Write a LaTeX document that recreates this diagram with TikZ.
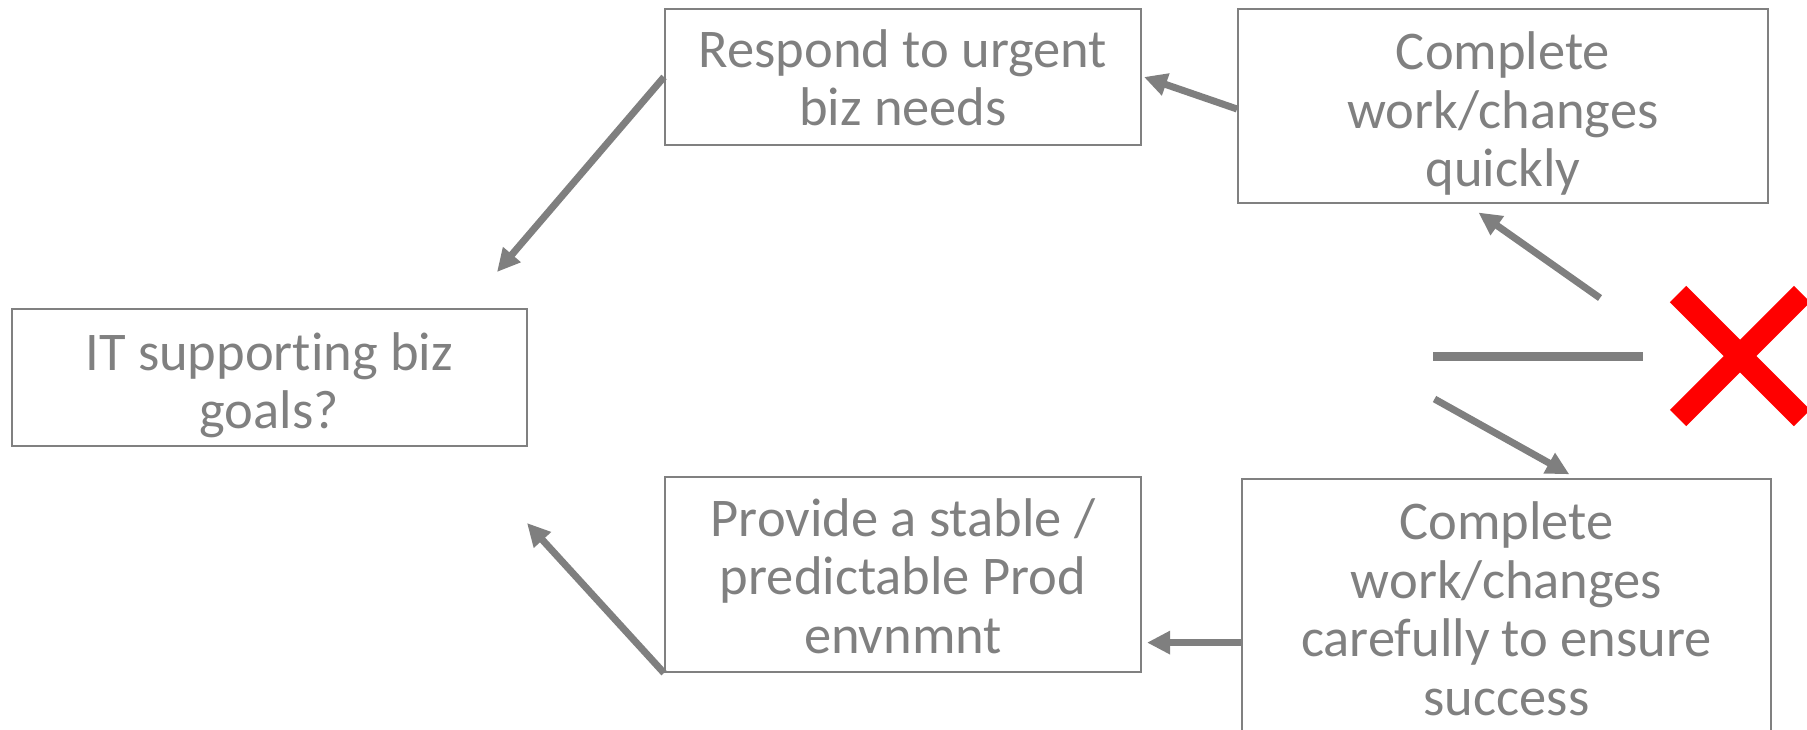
\documentclass[tikz,border=0pt]{standalone}
\usepackage{fontspec}
\setmainfont{Carlito}[Ligatures=NoCommon]
\usetikzlibrary{arrows.meta}
\definecolor{txtgray}{RGB}{128,128,128}
\definecolor{linegray}{RGB}{127,127,127}
\definecolor{xred}{RGB}{255,0,0}
\tikzset{
  frame/.style={draw=txtgray, line width=2pt, rectangle, inner sep=0pt},
  label text/.style={inner sep=0pt, anchor=base, align=center, text=txtgray,
    font=\fontsize{54.5}{58.5}\selectfont},
  flow/.style={draw=linegray, line width=7pt,
    -{Triangle[length=23pt,width=22pt]}},
  bar/.style={draw=linegray, line width=9pt},
  cross/.style={draw=xred, line width=23pt}
}
\begin{document}
\begin{tikzpicture}[x=1pt,y=-1pt]
  \useasboundingbox (0,0) rectangle (1807,729);

  % boxes
  \node[frame, minimum width=515.5pt, minimum height=137pt] (goal) at (269.25,377.5) {};
  \node[frame, minimum width=476pt, minimum height=136pt] (urgent) at (903,77) {};
  \node[frame, minimum width=530pt, minimum height=194pt] (quick) at (1503,106) {};
  \node[frame, minimum width=529pt, minimum height=258pt] (careful) at (1506.5,608) {};
  \node[frame, minimum width=476pt, minimum height=195pt] (stable) at (903,574.5) {};

  % box texts, placed on the baseline of their last line
  \node[label text] (goalT) at (goal.center |- 0,428.5) {IT supporting biz\\goals?};
  \node[label text] (urgentT) at (urgent.center |- 0,125.5) {Respond to urgent\\biz needs};
  \node[label text] (quickT) at (quick.center |- 0,186.5) {Complete\\work/changes\\quickly};
  \node[label text] (carefulT) at (careful.center |- 0,715)
    {Complete\\work/changes\\carefully to ensure\\success};
  \node[label text] (stableT) at (stable.center |- 0,653)
    {Provide a stable /\\predictable Prod\\envnmnt};

  % free ends of the connectors
  \coordinate (goalTop) at (497,272);
  \coordinate (goalBot) at (527,523);
  \coordinate (forkUp) at (1600,298);
  \coordinate (quickBelow) at (1478.5,212.5);
  \coordinate (forkDown) at (1434.5,399);
  \coordinate (carefulAbove) at (1569.3,474.3);
  \coordinate (barL) at (1433,356);
  \coordinate (barR) at (1643,356);
  \coordinate (xc) at (1740,356);

  % connectors
  \draw[flow] (urgent.west) -- (goalTop);
  \draw[flow] ([yshift=-3pt]quick.west) -- ([xshift=2pt]urgent.east);
  \draw[flow] (forkUp) -- (quickBelow);
  \draw[bar] (barL) -- (barR);
  \draw[flow] (forkDown) -- (carefulAbove);
  \draw[flow] (careful.west |- 0,642.6) -- ([xshift=5pt]stable.east |- 0,642.6);
  \draw[flow] (stable.south west) -- (goalBot);

  % red cross
  \draw[cross] ([shift={(-62,-62)}]xc) -- ([shift={(62,62)}]xc);
  \draw[cross] ([shift={(-62,62)}]xc) -- ([shift={(62,-62)}]xc);
\end{tikzpicture}
\end{document}
